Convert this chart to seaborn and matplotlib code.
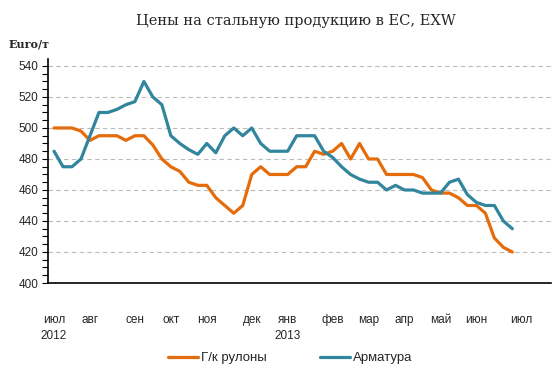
import numpy as np
import pandas as pd
import matplotlib.pyplot as plt
from matplotlib.lines import Line2D
from matplotlib.ticker import MultipleLocator
import seaborn as sns

# weekly prices, Jul 2012 - Jul 2013 (52 weeks)
coils = [500, 500, 500, 498, 492, 495, 495, 495, 492, 495,
         495, 489, 480, 475, 472, 465, 463, 463, 455, 450,
         445, 450, 470, 475, 470, 470, 470, 475, 475, 485,
         483, 485, 490, 480, 490, 480, 480, 470, 470, 470,
         470, 468, 460, 458, 458, 455, 450, 450, 445, 429,
         423, 420]
rebar = [485, 475, 475, 480, 495, 510, 510, 512, 515, 517,
         530, 520, 515, 495, 490, 486, 483, 490, 484, 495,
         500, 495, 500, 490, 485, 485, 485, 495, 495, 495,
         485, 481, 475, 470, 467, 465, 465, 460, 463, 460,
         460, 458, 458, 458, 465, 467, 457, 452, 450, 450,
         440, 435]
series_names = ["Г/к рулоны", "Арматура"]
colors = ["#E46C0A", "#31859C"]

month_pos = [0, 4, 9, 13, 17, 22, 26, 31, 35, 39, 43, 47, 52]
month_labels = ["июл\n2012", "авг", "сен", "окт", "ноя", "дек", "янв\n2013",
                "фев", "мар", "апр", "май", "июн", "июл"]

weeks = np.arange(len(coils))
df = pd.DataFrame({
    "week": np.concatenate([weeks, weeks]),
    "price": coils + rebar,
    "product": [series_names[0]] * len(coils) + [series_names[1]] * len(rebar),
})

sns.set_style("white")
plt.rcParams["font.family"] = ["Liberation Sans", "DejaVu Sans"]

fig = plt.figure(figsize=(5.54, 3.70), dpi=100)
ax = fig.add_axes([48 / 554, 87 / 370, (551 - 48) / 554, (283 - 59) / 370])

sns.lineplot(data=df, x="week", y="price", hue="product", palette=colors,
             linewidth=2.3, ax=ax, legend=False)

ax.set_xlim(-0.67, 55.3)
ax.set_ylim(400, 544.5)
ax.set_yticks(range(400, 541, 20))
ax.yaxis.set_minor_locator(MultipleLocator(5))
ax.tick_params(axis="y", which="major", length=4, width=0.8, color="black",
               labelsize=8.5, pad=3, left=True)
ax.tick_params(axis="y", which="minor", length=4, width=0.8, color="black", left=True)
ax.set_xticks(month_pos)
ax.set_xticklabels(month_labels, fontsize=8.5, linespacing=1.45)
ax.tick_params(axis="x", length=0, pad=22)

ax.grid(axis="y", color="#BBBBBB", linestyle=(0, (4, 3)), linewidth=0.8)
ax.set_axisbelow(True)
for s in ["top", "right"]:
    ax.spines[s].set_visible(False)
ax.spines["left"].set_color("black")
ax.spines["bottom"].set_color("black")
ax.spines["left"].set_linewidth(1.2)
ax.spines["bottom"].set_linewidth(1.2)
ax.set_xlabel("")
ax.set_ylabel("")

fig.text(296 / 554, 1 - 21 / 370, "Цены на стальную продукцию в ЕС, EXW",
         ha="center", va="center", fontsize=10.5, family="DejaVu Serif")
fig.text(9 / 554, 1 - 44 / 370, "Euro/т", ha="left", va="center",
         fontsize=8, fontweight="bold", family="DejaVu Serif")

handles = [Line2D([0], [0], color=c, lw=2.3) for c in colors]
fig.legend(handles, series_names, loc="center", bbox_to_anchor=(290 / 554, 1 - 358 / 370),
           ncol=2, frameon=False, fontsize=9.5, handlelength=2.3, handletextpad=0.2,
           columnspacing=4)

fig.savefig("out.png", dpi=100)
